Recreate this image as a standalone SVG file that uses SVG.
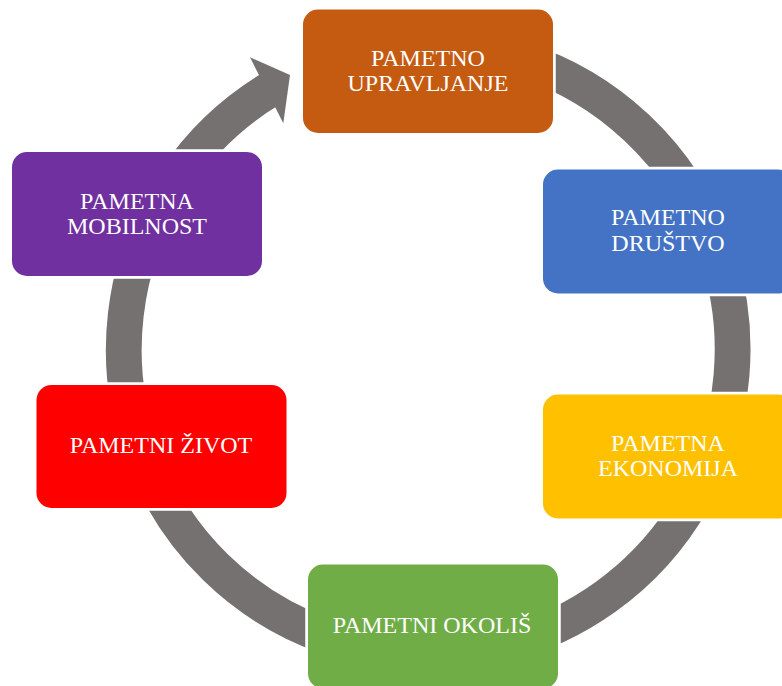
<svg xmlns="http://www.w3.org/2000/svg" width="782" height="686" viewBox="0 0 782 686">
<style>
.ring{fill:none;stroke:#767171;stroke-width:35.8}
.head{fill:#767171}
.box{stroke:#ffffff;stroke-width:5.5;paint-order:stroke}
.lbl{font-family:"Liberation Serif","Times New Roman",serif;font-size:24px;fill:#ffffff;text-anchor:middle}
</style>
<rect width="782" height="686" fill="#ffffff"/>
<g id="connectors">
<path class="ring" d="M 507.1 55.5 A 304.4 304.4 0 1 1 271.2 88.7"/>
<polygon class="head" points="250,57.3 290,75 283.3,123.3"/>
</g>
<g id="node-upravljanje">
<rect class="box" x="303" y="9.5" width="250" height="123.5" rx="15" fill="#C55A11"/>
<text class="lbl" x="428" y="65.7">PAMETNO</text>
<text class="lbl" x="428" y="90.7">UPRAVLJANJE</text>
</g>
<g id="node-drustvo">
<rect class="box" x="543" y="169.5" width="250" height="124" rx="15" fill="#4472C4"/>
<text class="lbl" x="668" y="225">PAMETNO</text>
<text class="lbl" x="668" y="250.5">DRUŠTVO</text>
</g>
<g id="node-ekonomija">
<rect class="box" x="543" y="394.5" width="250" height="124" rx="15" fill="#FFC000"/>
<text class="lbl" x="668" y="450.5">PAMETNA</text>
<text class="lbl" x="668" y="476">EKONOMIJA</text>
</g>
<g id="node-okolis">
<rect class="box" x="308" y="564.5" width="250" height="124" rx="15" fill="#70AD47"/>
<text class="lbl" x="432" y="633.3">PAMETNI OKOLIŠ</text>
</g>
<g id="node-zivot">
<rect class="box" x="36.5" y="385" width="250" height="123" rx="15" fill="#FF0000"/>
<text class="lbl" x="161" y="453.3">PAMETNI ŽIVOT</text>
</g>
<g id="node-mobilnost">
<rect class="box" x="12" y="152" width="250" height="124" rx="15" fill="#7030A0"/>
<text class="lbl" x="137" y="209">PAMETNA</text>
<text class="lbl" x="137" y="233.5">MOBILNOST</text>
</g>
</svg>
